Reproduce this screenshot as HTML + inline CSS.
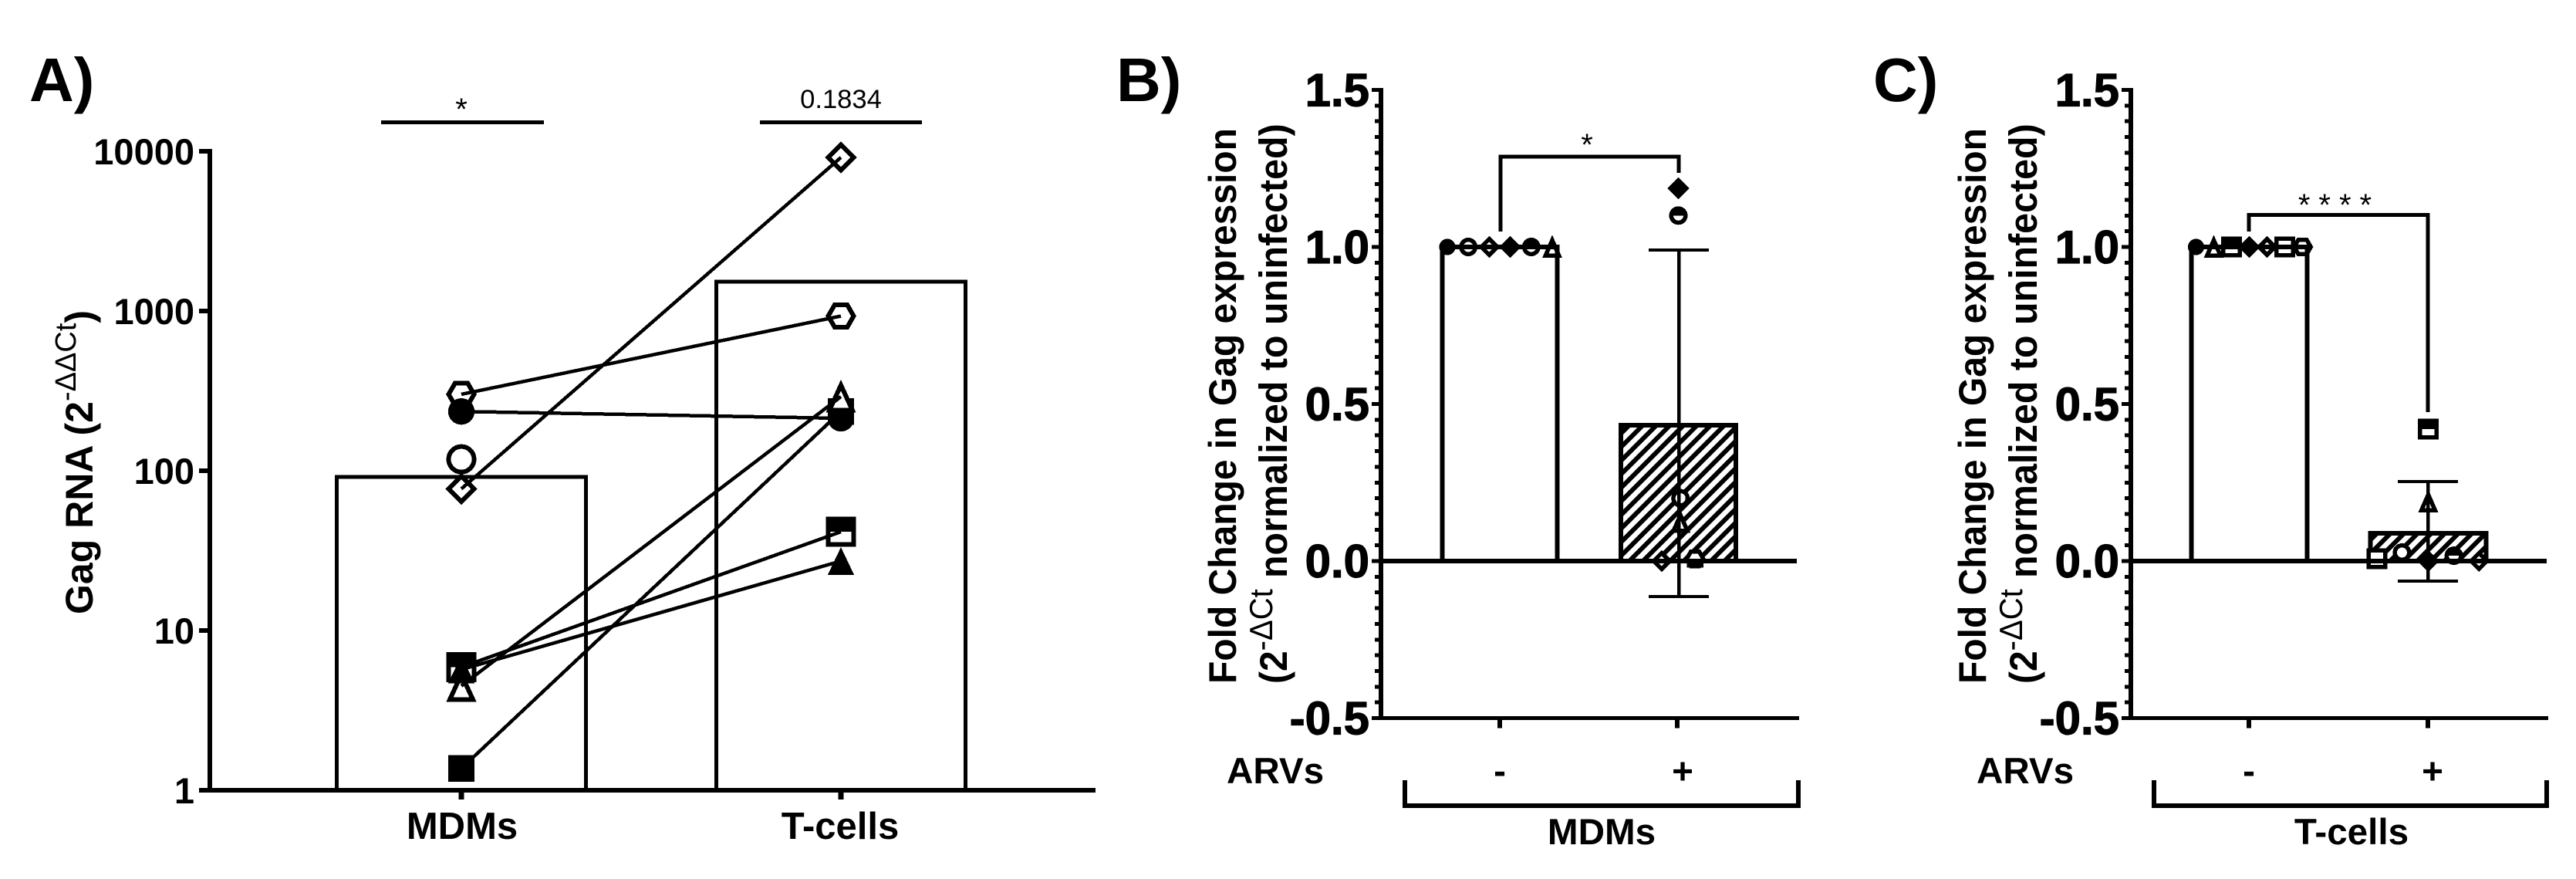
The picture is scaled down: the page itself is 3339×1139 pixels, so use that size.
<!DOCTYPE html>
<html lang="en">
<head>
<meta charset="utf-8">
<title>Gag RNA and fold change charts</title>
<style>
html,body{margin:0;padding:0;background:#fff;width:3339px;height:1139px;overflow:hidden}
svg{display:block}
text{font-family:"Liberation Sans",sans-serif;fill:#000}
.b{font-weight:700}
</style>
</head>
<body>
<svg id="fig" xmlns="http://www.w3.org/2000/svg" width="3339" height="1139" viewBox="0 0 3339 1139" shape-rendering="crispEdges">
<defs>
<pattern id="hatch" patternUnits="userSpaceOnUse" width="12.45" height="12.45" patternTransform="rotate(45)">
<rect x="0" y="0" width="12.45" height="12.45" fill="#fff"/>
<rect x="0" y="0" width="5.8" height="12.45" fill="#000"/>
</pattern>
</defs>
<rect x="0" y="0" width="3339" height="1139" fill="#fff"/>

<g id="panelA"></g>
<g id="panelB"></g>
<g id="panelC"></g>

<text class="b" x="38" y="131" font-size="80">A)</text>
<text class="b" x="1447" y="131" font-size="80">B)</text>
<text class="b" x="2428" y="131" font-size="80">C)</text>

<text class="b" font-size="50" transform="translate(120,796) rotate(-90)">Gag RNA (2<tspan font-weight="400" font-size="38" dy="-22">-ΔΔCt</tspan><tspan dy="22">)</tspan></text>
<rect x="494" y="156" width="211" height="5" fill="#000"/>
<rect x="985" y="156" width="210" height="5" fill="#000"/>
<text x="598" y="155" font-size="40" text-anchor="middle">*</text>
<text x="1090" y="140" font-size="34.6" text-anchor="middle">0.1834</text>

<text class="b" font-size="48" transform="translate(1602,886) scale(1.05,1) rotate(-90)">Fold Change in Gag expression</text>
<text class="b" font-size="48" transform="translate(1668,886) scale(1.05,1) rotate(-90)">(2<tspan font-weight="400" font-size="40" dy="-18">-ΔCt</tspan><tspan x="137" dy="18" font-size="48.4">normalized to uninfected)</tspan></text>
<text class="b" x="1590" y="1015" font-size="47.6">ARVs</text>
<text class="b" x="1944" y="1015" font-size="47.6" text-anchor="middle">-</text>
<text class="b" x="2181" y="1015" font-size="47.6" text-anchor="middle">+</text>
<path d="M1821 1011V1044H2331V1011" fill="none" stroke="#000" stroke-width="6"/>
<text class="b" x="2076" y="1094" font-size="47.6" text-anchor="middle">MDMs</text>
<path d="M1945 300V203H2176V224" fill="none" stroke="#000" stroke-width="5"/>
<text x="2057" y="201" font-size="40" text-anchor="middle">*</text>

<text class="b" font-size="48" transform="translate(2574,886) scale(1.05,1) rotate(-90)">Fold Change in Gag expression</text>
<text class="b" font-size="48" transform="translate(2640,886) scale(1.05,1) rotate(-90)">(2<tspan font-weight="400" font-size="40" dy="-18">-ΔCt</tspan><tspan x="137" dy="18" font-size="48.4">normalized to uninfected)</tspan></text>
<text class="b" x="2562" y="1015" font-size="47.6">ARVs</text>
<text class="b" x="2915" y="1015" font-size="47.6" text-anchor="middle">-</text>
<text class="b" x="3153" y="1015" font-size="47.6" text-anchor="middle">+</text>
<path d="M2792 1011V1044H3301V1011" fill="none" stroke="#000" stroke-width="6"/>
<text class="b" x="3048" y="1094" font-size="47.6" text-anchor="middle">T-cells</text>
<path d="M2915 300V278.5H3147V534" fill="none" stroke="#000" stroke-width="5"/>
<text x="3032" y="279" font-size="40" text-anchor="middle" letter-spacing="11">****</text>
</svg>

<script>
// Panel A data
const aCategories = ['MDMs', 'T-cells'];
const aTickValues = [1, 10, 100, 1000, 10000];
const aTickLabels = ['1', '10', '100', '1000', '10000'];
const aBarMeans = [91.5, 1527];
const aSymbols = ['hexagon', 'filled-circle', 'open-diamond', 'filled-square', 'open-triangle', 'half-square', 'filled-triangle', 'open-circle'];
const aMdmValues = [301, 235, 77, 1.37, 4.5, 5.9, 5.7, 118];
const aTcellValues = [930, 213, 9150, 235, 291, 41.5, 27.2, null];

// Panels B and C share the linear axis
const linTickValues = [-0.5, 0, 0.5, 1, 1.5];
const linTickLabels = ['-0.5', '0.0', '0.5', '1.0', '1.5'];

// Panel B data
const bMeans = [1, 0.433];
const bErrorHigh = [1, 0.99];
const bErrorLow = [1, -0.113];
const bUntreatedSymbols = ['filled-circle', 'open-circle', 'open-diamond', 'filled-diamond', 'half-circle', 'open-triangle'];
const bUntreatedValues = [1, 1, 1, 1, 1, 1];
const bUntreatedSlots = [-2.5, -1.5, -0.5, 0.5, 1.5, 2.5];
const bTreatedSymbols = ['filled-diamond', 'half-circle', 'open-circle', 'open-triangle', 'open-diamond', 'half-hexagon'];
const bTreatedValues = [1.187, 1.10, 0.2, 0.125, 0, 0.007];
const bTreatedSlots = [0, 0, 0.1, 0.1, -0.8, 0.8];

// Panel C data
const cMeans = [1, 0.088];
const cErrorHigh = [1, 0.253];
const cErrorLow = [1, -0.064];
const cUntreatedSymbols = ['filled-circle', 'open-triangle', 'half-square', 'filled-diamond', 'open-diamond', 'open-square', 'hexagon'];
const cUntreatedValues = [1, 1, 1, 1, 1, 1, 1];
const cUntreatedSlots = [-3, -2, -1, 0, 1, 2, 3];
const cTreatedSymbols = ['half-square', 'open-triangle', 'open-square', 'open-circle', 'filled-diamond', 'half-circle', 'open-diamond'];
const cTreatedValues = [0.42, 0.19, 0.007, 0.027, 0, 0.017, 0];
const cTreatedSlots = [0, 0, -1.45, -0.74, 0, 0.72, 1.43];

const NS = 'http://www.w3.org/2000/svg';

function make(parent, tag, attrs, name) {
  const el = document.createElementNS(NS, tag);
  for (const k in attrs) el.setAttribute(k, attrs[k]);
  
  
  parent.appendChild(el);
  return el;
}

function poly(pts) {
  return pts.map(function (p) { return p[0].toFixed(1) + ',' + p[1].toFixed(1); }).join(' ');
}

function hexPts(x, y, r) {
  const pts = [];
  for (let i = 0; i < 6; i++) {
    const a = Math.PI * i / 3;
    pts.push([x + r * Math.cos(a), y + r * Math.sin(a)]);
  }
  return pts;
}

function marker(parent, kind, x, y, s, sw, name) {
  const g = make(parent, 'g', {}, name);
  const base = { fill: '#fff', stroke: '#000', 'stroke-width': sw };
  const solid = { fill: '#000' };
  const f = 0.88;
  const rc = s < 15 ? 12 : s;
  if (kind === 'filled-circle') {
    make(g, 'circle', Object.assign({ cx: x, cy: y, r: rc * f }, solid), 'marker-shape');
  } else if (kind === 'open-circle') {
    make(g, 'circle', Object.assign({ cx: x, cy: y, r: rc - sw / 2 }, base), 'marker-shape');
  } else if (kind === 'half-circle') {
    make(g, 'circle', Object.assign({ cx: x, cy: y, r: rc - sw / 2 }, base), 'marker-shape');
    make(g, 'path', Object.assign({ d: 'M' + (x - rc) + ' ' + y + 'A' + rc + ' ' + rc + ' 0 0 1 ' + (x + rc) + ' ' + y + 'Z' }, solid), 'marker-half-fill');
  } else if (kind === 'filled-square') {
    const h = s * f;
    make(g, 'rect', Object.assign({ x: x - h, y: y - h, width: 2 * h, height: 2 * h }, solid), 'marker-shape');
  } else if (kind === 'open-square') {
    const h = s - sw / 2;
    make(g, 'rect', Object.assign({ x: x - h, y: y - h, width: 2 * h, height: 2 * h }, base), 'marker-shape');
  } else if (kind === 'half-square') {
    const h = s - sw / 2;
    make(g, 'rect', Object.assign({ x: x - h, y: y - h, width: 2 * h, height: 2 * h }, base), 'marker-shape');
    make(g, 'rect', Object.assign({ x: x - s, y: y - s, width: 2 * s, height: s }, solid), 'marker-half-fill');
  } else if (kind === 'filled-triangle') {
    const h = s * f;
    make(g, 'polygon', Object.assign({ points: poly([[x, y - h * 1.05], [x + h, y + h * 1.05], [x - h, y + h * 1.05]]) }, solid), 'marker-shape');
  } else if (kind === 'open-triangle') {
    const top = y - s * 1.1 + sw * 1.1;
    const bot = y + s * 1.05 - sw / 2;
    const hw = s * 1.1 - sw * 1.1;
    make(g, 'polygon', Object.assign({ points: poly([[x, top], [x + hw, bot], [x - hw, bot]]) }, base), 'marker-shape');
  } else if (kind === 'filled-diamond') {
    const h = s * 1.05;
    make(g, 'polygon', Object.assign({ points: poly([[x, y - h], [x + h, y], [x, y + h], [x - h, y]]) }, solid), 'marker-shape');
  } else if (kind === 'open-diamond') {
    const h = s * 1.05 - sw * 0.7;
    make(g, 'polygon', Object.assign({ points: poly([[x, y - h], [x + h, y], [x, y + h], [x - h, y]]) }, base), 'marker-shape');
  } else if (kind === 'hexagon' || kind === 'half-hexagon') {
    make(g, 'polygon', Object.assign({ points: poly(hexPts(x, y, s - sw / 2)) }, base), 'marker-shape');
    if (kind === 'half-hexagon') {
      make(g, 'rect', Object.assign({ x: x - s * 0.8, y: y, width: s * 1.6, height: s * 0.85 }, solid), 'marker-half-fill');
    }
  }
  return g;
}

/* ---------- Panel A ---------- */
(function () {
  const root = document.getElementById('panelA');
  const axisX = 272, yBase = 1024, decade = 207;
  const catX = [598, 1090];
  const halfBar = 161.5;
  const y = function (v) { return yBase - Math.log10(v) * decade; };

  aBarMeans.forEach(function (m, i) {
    make(root, 'rect', {
      x: catX[i] - halfBar, y: y(m), width: halfBar * 2, height: yBase - y(m),
      fill: '#fff', stroke: '#000', 'stroke-width': 5
    }, 'bar-' + aCategories[i].toLowerCase());
  });

  aSymbols.forEach(function (kind, i) {
    marker(root, kind, catX[0], y(aMdmValues[i]), 19.5, 6, 'point-mdms-' + kind);
    if (aTcellValues[i] !== null) {
      marker(root, kind, catX[1], y(aTcellValues[i]), 19.5, 6, 'point-tcells-' + kind);
    }
  });

  aSymbols.forEach(function (kind, i) {
    if (aTcellValues[i] === null) return;
    make(root, 'line', {
      x1: catX[0], y1: y(aMdmValues[i]), x2: catX[1], y2: y(aTcellValues[i]),
      stroke: '#000', 'stroke-width': 4.5
    }, 'paired-line-' + kind);
  });

  make(root, 'rect', { x: axisX - 3, y: y(10000) - 3, width: 6, height: yBase - y(10000) + 6, fill: '#000' }, 'y-axis-line');
  make(root, 'rect', { x: axisX - 3, y: yBase - 3, width: 1420 - axisX + 3, height: 6, fill: '#000' }, 'x-axis-line');

  aTickValues.forEach(function (v, i) {
    make(root, 'rect', { x: axisX - 14, y: y(v) - 3, width: 12, height: 6, fill: '#000' }, 'y-tick-' + aTickLabels[i]);
    const t = make(root, 'text', { x: 252, y: y(v) + 17, 'text-anchor': 'end', 'font-size': 47, 'font-weight': 700 }, 'y-tick-label-' + aTickLabels[i]);
    t.textContent = aTickLabels[i];
  });

  aCategories.forEach(function (c, i) {
    make(root, 'rect', { x: catX[i] - 3.5, y: yBase, width: 7, height: 12, fill: '#000' }, 'x-tick-' + c.toLowerCase());
    const t = make(root, 'text', { x: catX[i] + (i === 0 ? 1 : -1), y: 1087, 'text-anchor': 'middle', 'font-size': 49, 'font-weight': 700 }, 'x-tick-label-' + c.toLowerCase());
    t.textContent = c;
  });
})();

/* ---------- Panels B and C ---------- */
function drawLinear(rootId, L, means, errHigh, errLow, g1Kinds, g1Vals, g1Slots, g2Kinds, g2Vals, g2Slots) {
  const root = document.getElementById(rootId);
  const y = function (v) { return 727 - 407 * v; };

  make(root, 'rect', {
    x: L.cx[1] - L.halfBar, y: y(means[1]), width: L.halfBar * 2, height: y(0) - y(means[1]),
    fill: 'url(#hatch)', stroke: '#000', 'stroke-width': 6
  }, 'bar-with-arvs');

  g2Kinds.forEach(function (kind, i) {
    marker(root, kind, L.cx[1] + g2Slots[i] * L.treatedSpacing, y(g2Vals[i]), 13.5, 5.5, 'point-with-arvs-' + kind);
  });
  g1Kinds.forEach(function (kind, i) {
    marker(root, kind, L.cx[0] + g1Slots[i] * L.untreatedSpacing, y(g1Vals[i]), 13.5, 5.5, 'point-without-arvs-' + kind);
  });

  make(root, 'rect', {
    x: L.cx[0] - L.halfBar, y: y(means[0]), width: L.halfBar * 2, height: y(0) - y(means[0]),
    fill: 'none', stroke: '#000', 'stroke-width': 6
  }, 'bar-without-arvs');

  make(root, 'rect', { x: L.errX - 2.25, y: y(errHigh[1]), width: 4.5, height: y(errLow[1]) - y(errHigh[1]), fill: '#000' }, 'error-bar-stem');
  make(root, 'rect', { x: L.errX - 39, y: y(errHigh[1]) - 2, width: 78, height: 4, fill: '#000' }, 'error-bar-upper-cap');
  make(root, 'rect', { x: L.errX - 39, y: y(errLow[1]) - 2, width: 78, height: 4, fill: '#000' }, 'error-bar-lower-cap');

  make(root, 'rect', { x: L.axisX, y: y(0) - 3, width: L.zeroEnd - L.axisX, height: 6, fill: '#000' }, 'zero-line');
  make(root, 'rect', { x: L.axisX - 3, y: y(1.5) - 2.5, width: 6, height: y(-0.5) - y(1.5) + 5, fill: '#000' }, 'y-axis-line');
  make(root, 'rect', { x: L.axisX - 3, y: y(-0.5) - 2.5, width: L.axisEnd - L.axisX + 3, height: 5, fill: '#000' }, 'x-axis-line');

  for (let k = -10; k <= 30; k++) {
    const v = k * 0.05;
    if (k % 10 === 0) continue;
    make(root, 'rect', { x: L.axisX - 8, y: y(v) - 2.5, width: 6, height: 5, fill: '#000' }, 'y-minor-tick');
  }
  linTickValues.forEach(function (v, i) {
    make(root, 'rect', { x: L.axisX - 12, y: y(v) - 2.5, width: 10, height: 5, fill: '#000' }, 'y-tick-' + linTickLabels[i]);
    const t = make(root, 'text', { x: L.axisX - 15, y: y(v) + 21, 'text-anchor': 'end', 'font-size': 60, 'font-weight': 700, stroke: '#000', 'stroke-width': 1.2 }, 'y-tick-label-' + linTickLabels[i]);
    t.textContent = linTickLabels[i];
  });
  L.tickX.forEach(function (x, i) {
    make(root, 'rect', { x: x - 3, y: y(-0.5) + 2, width: 6, height: 11, fill: '#000' }, 'x-tick-' + (i === 0 ? 'without-arvs' : 'with-arvs'));
  });
}

drawLinear('panelB', {
  axisX: 1790, axisEnd: 2332, zeroEnd: 2329, cx: [1944, 2175.5], halfBar: 74.5,
  errX: 2176, tickX: [1944, 2174], untreatedSpacing: 27.2, treatedSpacing: 27
}, bMeans, bErrorHigh, bErrorLow,
  bUntreatedSymbols, bUntreatedValues, bUntreatedSlots,
  bTreatedSymbols, bTreatedValues, bTreatedSlots);

drawLinear('panelC', {
  axisX: 2762, axisEnd: 3303, zeroEnd: 3301, cx: [2915.5, 3147.5], halfBar: 75,
  errX: 3147, tickX: [2915, 3147], untreatedSpacing: 23, treatedSpacing: 46
}, cMeans, cErrorHigh, cErrorLow,
  cUntreatedSymbols, cUntreatedValues, cUntreatedSlots,
  cTreatedSymbols, cTreatedValues, cTreatedSlots);
</script>
</body>
</html>
